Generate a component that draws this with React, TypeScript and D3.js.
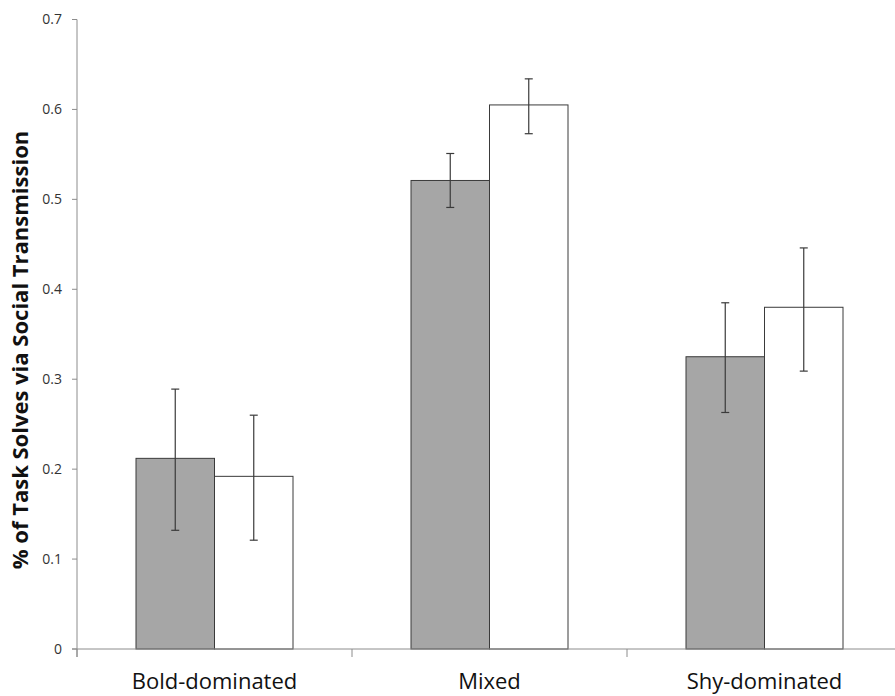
import React from "react";
import * as d3 from "d3";

const categories = ["Bold-dominated", "Mixed", "Shy-dominated"];
const series = ["Group A", "Group B"];
const valuesA = [0.212, 0.521, 0.325];
const valuesB = [0.192, 0.605, 0.380];
const upperA = [0.289, 0.551, 0.385];
const lowerA = [0.132, 0.491, 0.263];
const upperB = [0.260, 0.634, 0.446];
const lowerB = [0.121, 0.573, 0.309];
const yTicks = [0, 0.1, 0.2, 0.3, 0.4, 0.5, 0.6, 0.7];
const yTitle = "% of Task Solves via Social Transmission";

const W = 895;
const H = 696;
const axisX = 77;
const axisY = 649;
const catW = 275;
const barW = 78.5;

export default function App() {
  const y = d3.scaleLinear().domain([0, 0.7]).range([axisY, 19.5]);
  const x = d3
    .scaleBand<string>()
    .domain(categories)
    .range([axisX, axisX + catW * categories.length])
    .padding(0);
  const inner = d3
    .scaleBand<string>()
    .domain(series)
    .range([-barW, barW])
    .padding(0);

  const fill = ["#a6a6a6", "#ffffff"];
  const vals = [valuesA, valuesB];
  const ups = [upperA, upperB];
  const lows = [lowerA, lowerB];
  const font = "'Open Sans', 'DejaVu Sans', sans-serif";

  const boundaries = d3.range(categories.length + 1).map((i) => axisX + catW * i);

  return (
    <div style={{ position: "absolute", left: 0, top: 0 }}>
      <svg width={W} height={H} style={{ display: "block", background: "#fff" }}>
        {/* bars */}
        {categories.map((c, ci) => {
          const cx = (x(c) as number) + x.bandwidth() / 2;
          return (
            <g key={c}>
              {series.map((s, si) => {
                const x0 = cx + (inner(s) as number);
                const v = vals[si][ci];
                return (
                  <rect
                    key={s}
                    x={x0}
                    y={y(v)}
                    width={inner.bandwidth()}
                    height={axisY - y(v)}
                    fill={fill[si]}
                    stroke="#3a3a3a"
                    strokeWidth={1}
                  />
                );
              })}
              {series.map((s, si) => {
                const ex = cx + (inner(s) as number) + inner.bandwidth() / 2;
                const yu = y(ups[si][ci]);
                const yl = y(lows[si][ci]);
                return (
                  <g key={"e" + s} stroke="#3a3a3a" strokeWidth={1.2}>
                    <line x1={ex} x2={ex} y1={yu} y2={yl} />
                    <line x1={ex - 4} x2={ex + 4} y1={yu} y2={yu} />
                    <line x1={ex - 4} x2={ex + 4} y1={yl} y2={yl} />
                  </g>
                );
              })}
            </g>
          );
        })}
        {/* y axis */}
        <line x1={axisX} x2={axisX} y1={y(0.7)} y2={axisY + 8} stroke="#8c8c8c" strokeWidth={1} />
        {yTicks.map((t) => (
          <g key={t}>
            <line x1={axisX - 5} x2={axisX} y1={y(t)} y2={y(t)} stroke="#8c8c8c" strokeWidth={1} />
            <text
              x={62}
              y={y(t)}
              dy="0.35em"
              textAnchor="end"
              fontFamily={font}
              fontSize={14}
              fill="#333"
            >
              {t === 0 ? "0" : t.toFixed(1)}
            </text>
          </g>
        ))}
        {/* x axis */}
        <line x1={axisX - 5} x2={W} y1={axisY} y2={axisY} stroke="#8c8c8c" strokeWidth={1} />
        {boundaries.map((b) => (
          <line key={b} x1={b} x2={b} y1={axisY} y2={axisY + 8} stroke="#8c8c8c" strokeWidth={1} />
        ))}
        {categories.map((c) => (
          <text
            key={c}
            x={(x(c) as number) + x.bandwidth() / 2}
            y={689}
            textAnchor="middle"
            fontFamily={font}
            fontSize={22}
            fill="#111"
          >
            {c}
          </text>
        ))}
        {/* y title */}
        <text
          transform={`translate(28, 350) rotate(-90)`}
          textAnchor="middle"
          fontFamily={font}
          fontWeight="bold"
          fontSize={22}
          fill="#111"
        >
          {yTitle}
        </text>
      </svg>
    </div>
  );
}
